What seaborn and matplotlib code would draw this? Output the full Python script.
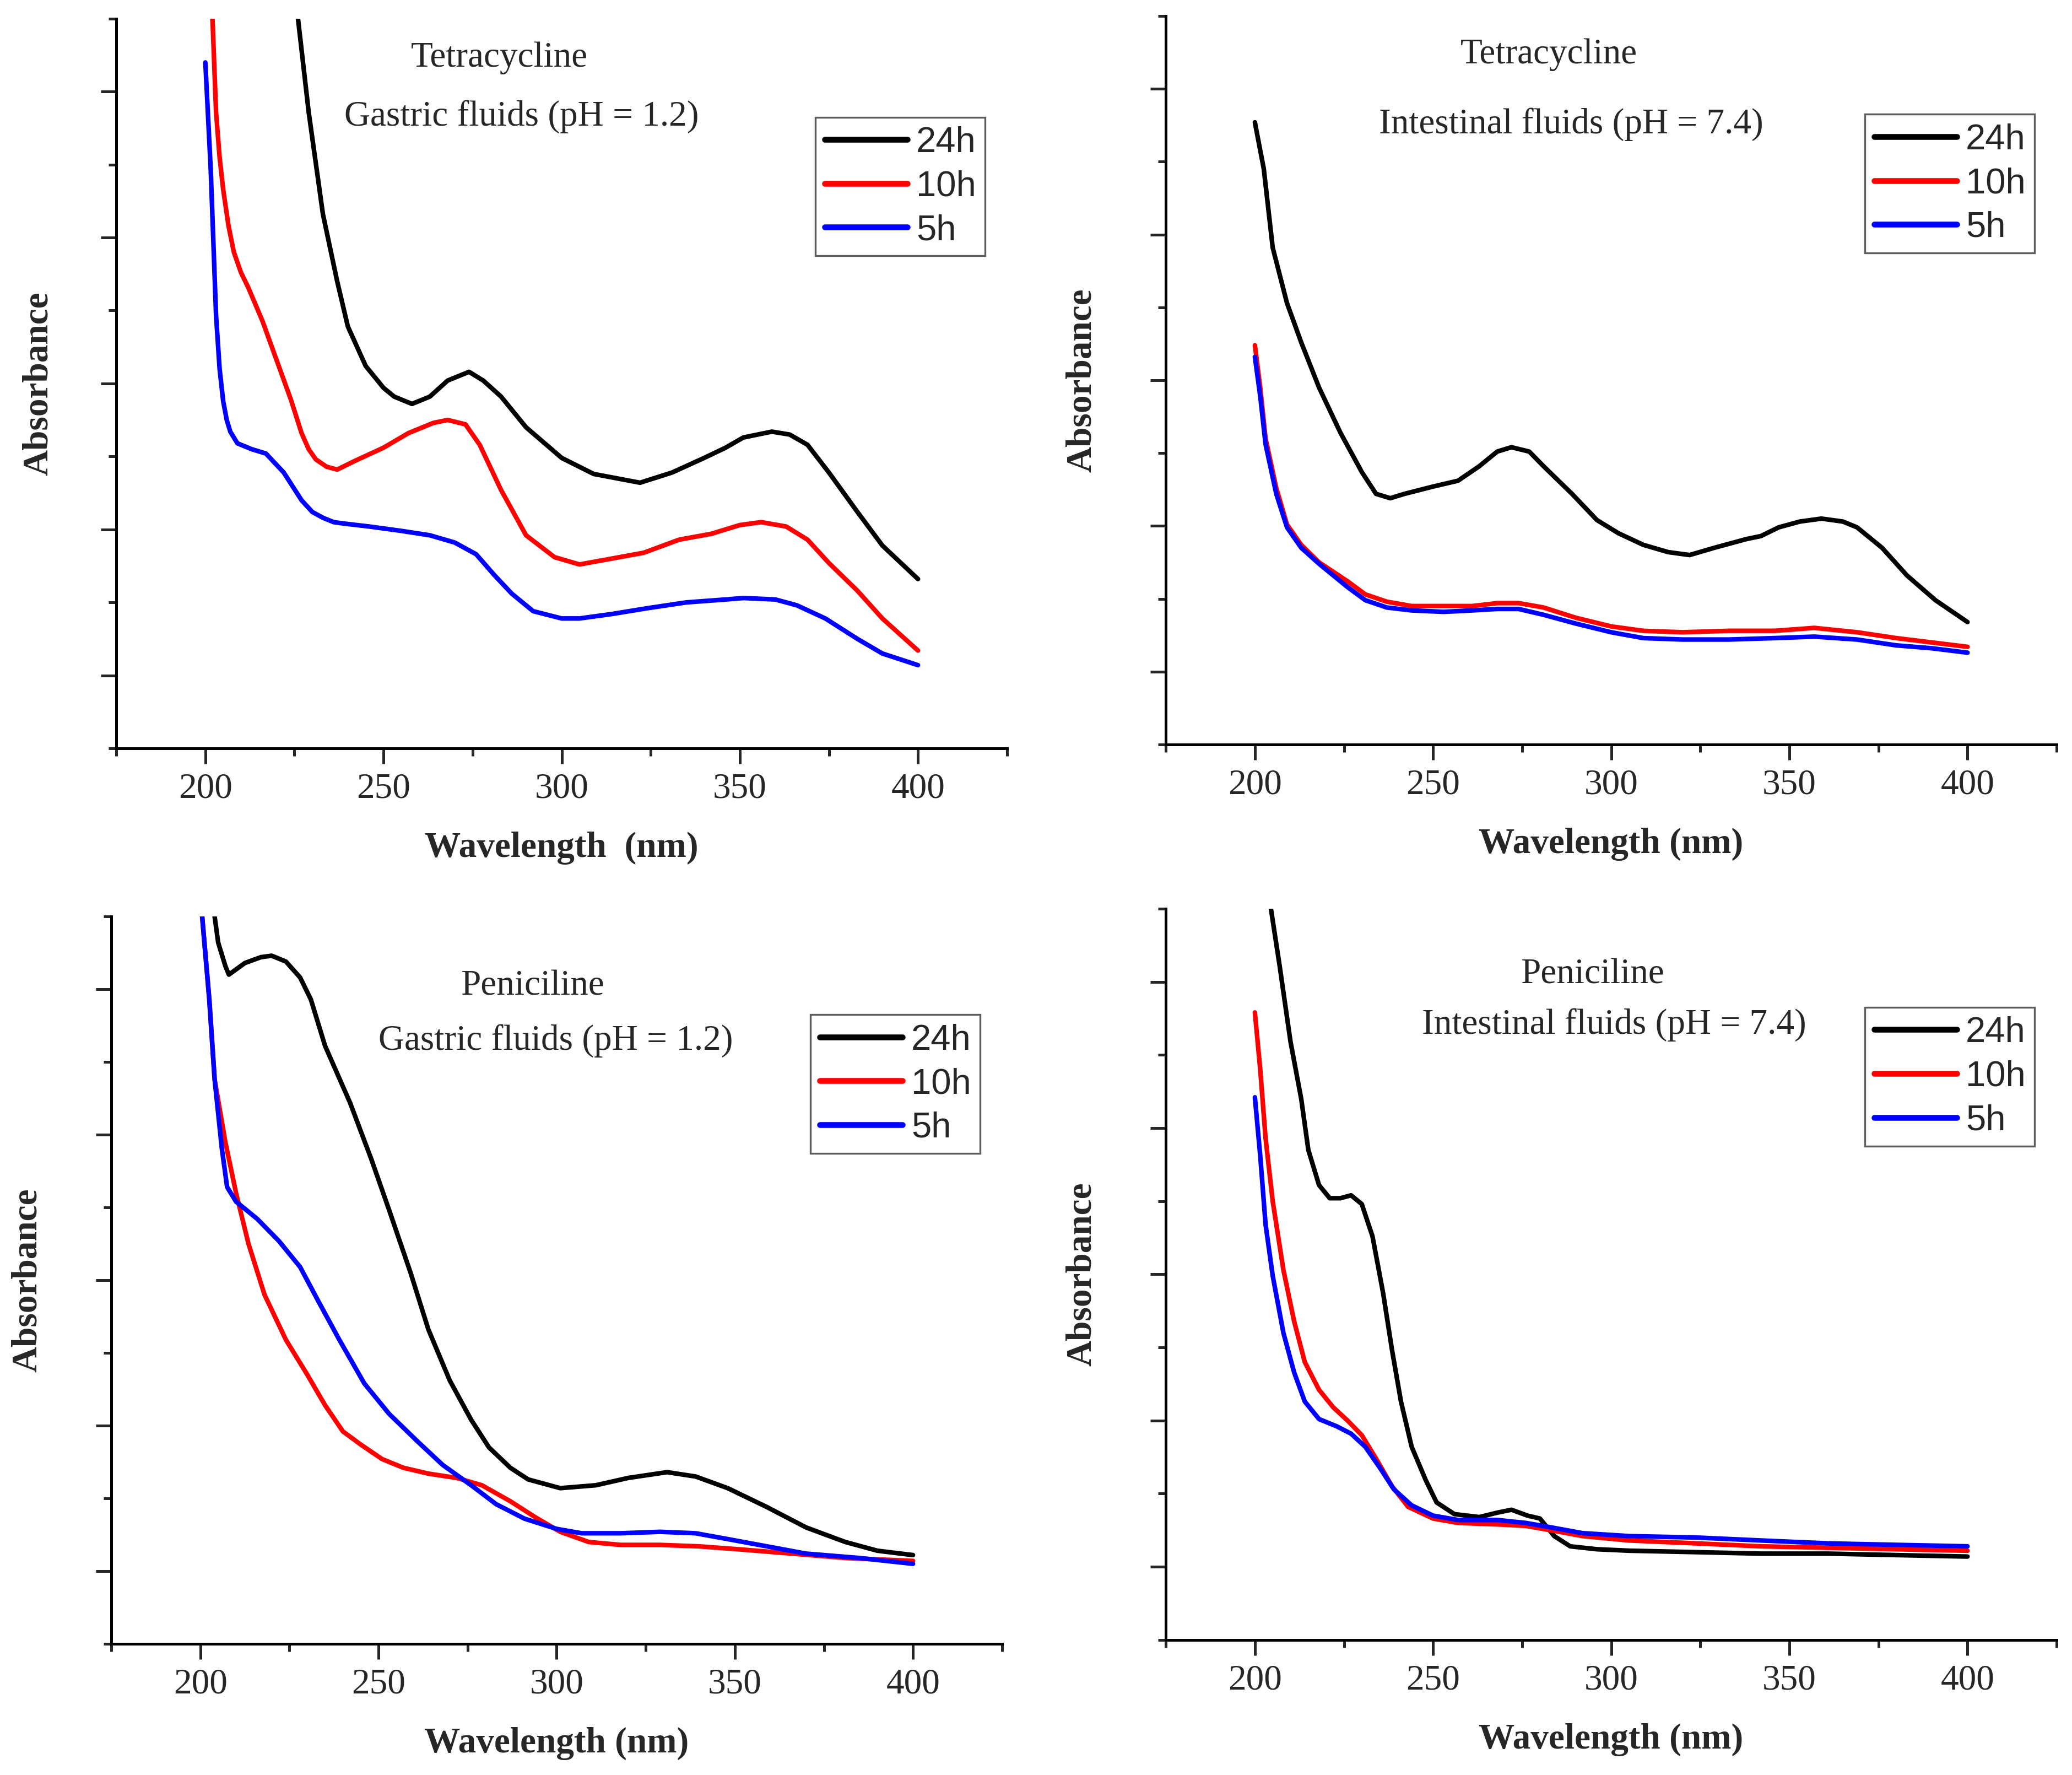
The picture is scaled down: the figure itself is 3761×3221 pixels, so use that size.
import numpy as np
import pandas as pd
import seaborn as sns
import matplotlib.pyplot as plt
from matplotlib.ticker import MultipleLocator

# ---- data (absorbance in arbitrary units, major tick = 1) ----
# Tetracycline, gastric fluids (pH 1.2)
tg_24_wl = [226, 229, 233, 237, 240, 245, 250, 253, 258, 263, 268, 274, 278, 283, 290, 300, 309, 322,
            331, 340, 346, 351, 359, 364, 369, 375, 383, 390, 400]
tg_24_ab = [4.5, 3.86, 3.16, 2.70, 2.39, 2.12, 1.97, 1.91, 1.86, 1.91, 2.02, 2.08, 2.02, 1.91, 1.70, 1.49, 1.38, 1.32,
            1.39, 1.49, 1.56, 1.63, 1.67, 1.65, 1.58, 1.39, 1.12, 0.89, 0.66]
tg_10_wl = [202, 203, 204, 205, 206.5, 208, 210, 212, 216, 220, 224, 227, 229, 231, 234, 237, 242, 250, 257, 264,
            268, 273, 277, 283, 290, 298, 305, 314, 323, 333, 342, 350, 356, 363, 369, 375, 383, 390, 400]
tg_10_ab = [4.5, 3.86, 3.55, 3.33, 3.08, 2.90, 2.76, 2.66, 2.43, 2.16, 1.89, 1.66, 1.55, 1.48, 1.43, 1.41, 1.47,
            1.56, 1.66, 1.73, 1.75, 1.72, 1.58, 1.27, 0.96, 0.81, 0.76, 0.80, 0.84, 0.93, 0.97, 1.03, 1.05, 1.02,
            0.93, 0.77, 0.58, 0.39, 0.17]
tg_5_wl = [200, 201.5, 203, 204, 205, 206, 207, 209, 213, 217, 222, 227, 230, 233, 236, 239, 246, 255, 263, 270,
           276, 281, 286, 292, 300, 305, 314, 324, 335, 346, 351, 360, 366, 374, 383, 390, 400]
tg_5_ab = [4.20, 3.47, 2.47, 2.10, 1.88, 1.75, 1.67, 1.59, 1.55, 1.52, 1.39, 1.20, 1.12, 1.08, 1.05, 1.04, 1.02,
           0.99, 0.96, 0.91, 0.83, 0.69, 0.56, 0.44, 0.39, 0.39, 0.42, 0.46, 0.50, 0.52, 0.53, 0.52, 0.48, 0.39,
           0.25, 0.15, 0.07]

# Tetracycline, intestinal fluids (pH 7.4)
ti_24_wl = [200, 202.5, 205, 209, 213, 218, 224, 230, 234, 238, 242, 250, 257, 263, 268, 272, 277, 281, 289, 296,
            302, 309, 316, 322, 329, 338, 342, 347, 353, 359, 365, 369, 376, 383, 391, 400]
ti_24_ab = [3.77, 3.45, 2.91, 2.53, 2.26, 1.95, 1.64, 1.37, 1.22, 1.19, 1.22, 1.27, 1.31, 1.41, 1.51, 1.54, 1.51, 1.41,
            1.22, 1.04, 0.95, 0.87, 0.82, 0.80, 0.85, 0.91, 0.93, 0.99, 1.03, 1.05, 1.03, 0.99, 0.85, 0.66, 0.49, 0.34]
ti_10_wl = [200, 201.5, 203, 206, 209, 213, 218, 226, 231, 237, 244, 253, 261, 268, 274, 281, 290, 300, 309, 320,
            333, 346, 357, 369, 380, 390, 400]
ti_10_ab = [2.24, 1.95, 1.60, 1.26, 1.01, 0.87, 0.75, 0.62, 0.53, 0.48, 0.45, 0.45, 0.45, 0.47, 0.47, 0.44, 0.37,
            0.31, 0.28, 0.27, 0.28, 0.28, 0.30, 0.27, 0.23, 0.20, 0.17]
ti_5_wl = ti_10_wl
ti_5_ab = [2.16, 1.89, 1.56, 1.22, 0.99, 0.85, 0.74, 0.58, 0.49, 0.44, 0.42, 0.41, 0.42, 0.43, 0.43, 0.39, 0.33,
           0.27, 0.23, 0.22, 0.22, 0.23, 0.24, 0.22, 0.18, 0.16, 0.13]

# Peniciline, gastric fluids (pH 1.2)
pg_24_wl = [204, 205, 207, 208, 212.5, 217, 220, 224, 228, 231, 235, 242, 248, 253, 259, 264, 270, 276, 281, 287,
            292, 301, 311, 320, 331, 339, 348, 359, 370, 381, 390, 400]
pg_24_ab = [4.5, 4.32, 4.16, 4.10, 4.18, 4.22, 4.23, 4.19, 4.08, 3.93, 3.61, 3.22, 2.83, 2.48, 2.05, 1.66, 1.31, 1.04,
            0.85, 0.71, 0.63, 0.57, 0.59, 0.64, 0.68, 0.65, 0.57, 0.44, 0.30, 0.20, 0.14, 0.11]
pg_10_wl = [200.5, 202.5, 204, 207, 210, 213.5, 218, 224, 230, 235, 240, 245, 251, 257, 264, 272, 279, 287, 294,
            301, 309, 318, 329, 340, 351, 366, 381, 400]
pg_10_ab = [4.5, 3.93, 3.38, 2.95, 2.60, 2.25, 1.90, 1.59, 1.35, 1.14, 0.96, 0.87, 0.77, 0.71, 0.67, 0.64, 0.59, 0.48,
            0.37, 0.27, 0.20, 0.18, 0.18, 0.17, 0.15, 0.12, 0.09, 0.07]
pg_5_wl = [200.5, 202.5, 204, 206, 207.5, 210, 216, 222, 228, 233, 239, 246, 253, 261, 268, 276, 283, 291, 300,
           307, 318, 329, 339, 348, 359, 370, 385, 400]
pg_5_ab = [4.5, 3.93, 3.38, 2.91, 2.64, 2.54, 2.42, 2.27, 2.09, 1.86, 1.59, 1.29, 1.08, 0.89, 0.73, 0.59, 0.46, 0.36,
           0.29, 0.26, 0.26, 0.27, 0.26, 0.22, 0.17, 0.12, 0.09, 0.05]

# Peniciline, intestinal fluids (pH 7.4)
pi_24_wl = [204.5, 207, 210, 213, 215, 218, 221, 224, 227, 230, 233, 236, 238.5, 241, 244, 248, 251, 256, 263, 268,
            272, 276.5, 280, 284, 288.5, 296, 305, 324, 342, 361, 380, 400]
pi_24_ab = [4.5, 4.10, 3.59, 3.20, 2.85, 2.61, 2.52, 2.52, 2.54, 2.48, 2.26, 1.87, 1.48, 1.13, 0.82, 0.59, 0.44, 0.36,
            0.34, 0.37, 0.39, 0.35, 0.33, 0.21, 0.14, 0.12, 0.11, 0.10, 0.09, 0.09, 0.08, 0.07]
pi_10_wl = [200, 201.5, 203, 205, 208, 211, 214, 218, 222, 226, 230, 234, 238.5, 243, 250, 257, 268, 276, 283, 292,
            305, 324, 342, 361, 380, 400]
pi_10_ab = [3.79, 3.40, 2.93, 2.50, 2.03, 1.68, 1.40, 1.21, 1.09, 1.00, 0.90, 0.74, 0.55, 0.41, 0.33, 0.30, 0.29,
            0.28, 0.25, 0.21, 0.18, 0.16, 0.14, 0.13, 0.12, 0.11]
pi_5_wl = [200, 201.5, 203, 205, 208, 211, 214, 218, 223, 227, 231, 235, 239, 244, 250, 257, 268, 276, 283, 292,
           305, 324, 342, 361, 380, 400]
pi_5_ab = [3.21, 2.81, 2.34, 1.99, 1.60, 1.33, 1.13, 1.01, 0.96, 0.91, 0.82, 0.68, 0.53, 0.42, 0.35, 0.32, 0.32,
           0.30, 0.27, 0.23, 0.21, 0.20, 0.18, 0.16, 0.15, 0.14]

labels = ["24h", "10h", "5h"]
colors = ["black", "#ff0000", "#0000ff"]

panels = [
    ("Tetracycline", "Gastric fluids (pH = 1.2)",
     [(tg_24_wl, tg_24_ab), (tg_10_wl, tg_10_ab), (tg_5_wl, tg_5_ab)]),
    ("Tetracycline", "Intestinal fluids (pH = 7.4)",
     [(ti_24_wl, ti_24_ab), (ti_10_wl, ti_10_ab), (ti_5_wl, ti_5_ab)]),
    ("Peniciline", "Gastric fluids (pH = 1.2)",
     [(pg_24_wl, pg_24_ab), (pg_10_wl, pg_10_ab), (pg_5_wl, pg_5_ab)]),
    ("Peniciline", "Intestinal fluids (pH = 7.4)",
     [(pi_24_wl, pi_24_ab), (pi_10_wl, pi_10_ab), (pi_5_wl, pi_5_ab)]),
]

# axes boxes [left, bottom, width, height] in figure fraction
boxes = [
    [0.0561, 0.5784, 0.4298, 0.4111],
    [0.5625, 0.5806, 0.4298, 0.4104],
    [0.0537, 0.0739, 0.4298, 0.4098],
    [0.5625, 0.0761, 0.4298, 0.4120],
]
# annotation positions (axes fraction): drug name, fluid
text_pos = [
    ((0.430, 0.946), (0.455, 0.866)),
    ((0.430, 0.947), (0.455, 0.851)),
    ((0.473, 0.904), (0.499, 0.829)),
    ((0.479, 0.910), (0.503, 0.841)),
]
xlabels = ["Wavelength  (nm)", "Wavelength (nm)", "Wavelength (nm)", "Wavelength (nm)"]
ylabel_pads = [30, 34, 34, 34]

sns.set_style("ticks")
plt.rcParams['font.family'] = ['Liberation Serif', 'DejaVu Serif']

fig = plt.figure(figsize=(18.81, 16.105), dpi=200)

for i, (drug, fluid, series) in enumerate(panels):
    ax = fig.add_axes(boxes[i])
    for (wl, ab), lab, col in zip(series, labels, colors):
        df = pd.DataFrame({"Wavelength": wl, "Absorbance": ab})
        sns.lineplot(data=df, x="Wavelength", y="Absorbance", color=col, lw=3.0,
                     label=lab, estimator=None, ax=ax)
    ax.set_xlim(175, 425)
    ax.set_ylim(-0.5, 4.5)
    ax.xaxis.set_major_locator(MultipleLocator(50))
    ax.xaxis.set_minor_locator(MultipleLocator(25))
    ax.yaxis.set_major_locator(MultipleLocator(1))
    ax.yaxis.set_minor_locator(MultipleLocator(0.5))
    ax.tick_params(which='major', length=10, width=1.8, direction='out', labelsize=23.5, pad=6)
    ax.tick_params(which='minor', length=5, width=1.8, direction='out')
    ax.tick_params(axis='y', labelleft=False)
    for s in ['top', 'right']:
        ax.spines[s].set_visible(False)
    for s in ['left', 'bottom']:
        ax.spines[s].set_linewidth(1.8)
        ax.spines[s].set_color('black')
    ax.set_xlabel(xlabels[i], fontsize=23.5, fontweight='bold', labelpad=17)
    ax.set_ylabel("Absorbance", fontsize=23.5, fontweight='bold', labelpad=ylabel_pads[i])

    (dx, dy), (fx, fy) = text_pos[i]
    ax.text(dx, dy, drug, transform=ax.transAxes, ha='center', va='center', fontsize=23.5)
    ax.text(fx, fy, fluid, transform=ax.transAxes, ha='center', va='center', fontsize=23.5)

    leg = ax.legend(loc='upper left', bbox_to_anchor=(0.785, 0.865), borderaxespad=0,
                    frameon=True, fancybox=False, handlelength=2.3, handletextpad=0.25,
                    labelspacing=0.3, borderpad=0.25,
                    prop={'family': 'Liberation Sans', 'size': 23.5})
    leg.get_frame().set_edgecolor('#333333')
    leg.get_frame().set_linewidth(1.2)
    for h in leg.get_lines():
        h.set_linewidth(3.8)

plt.savefig("out.png", dpi=200)
